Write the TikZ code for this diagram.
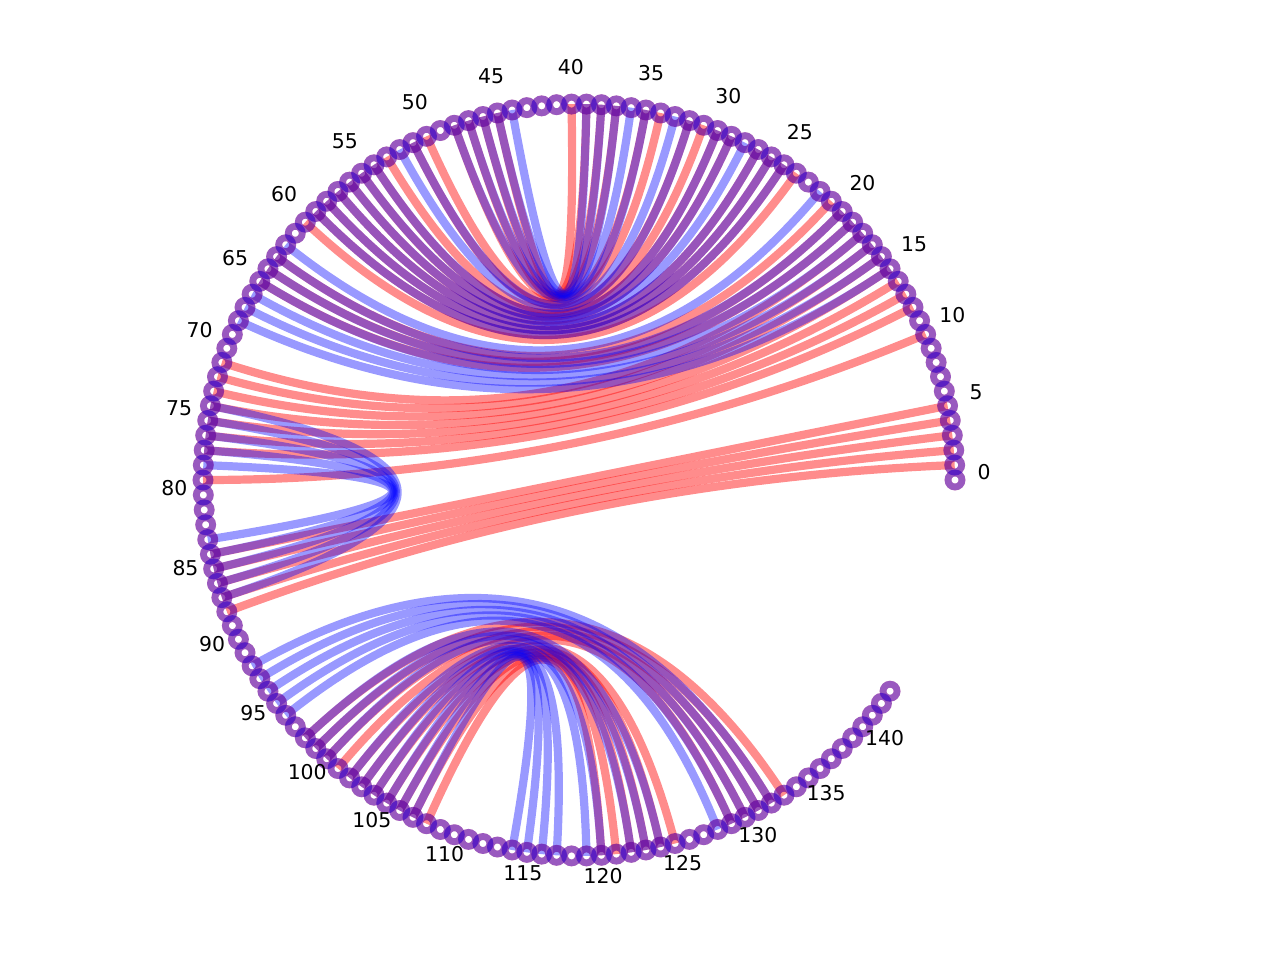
\documentclass[tikz,border=0pt]{standalone}
\usepackage{fontspec}
\setmainfont{DejaVu Sans}
\usetikzlibrary{calc}
\begin{document}
\begin{tikzpicture}[x=0.5pt,y=0.5pt,
  redline/.style={draw=red, draw opacity=0.45, line width=4.1pt},
  blueline/.style={draw=blue, draw opacity=0.4, line width=4.1pt},
  redring/.style={draw=red, draw opacity=0.42, line width=3.4pt},
  bluering/.style={draw=blue, draw opacity=0.4, line width=3.4pt},
  lbl/.style={font=\fontsize{10.2}{12}\selectfont, inner sep=0pt, text=black}]
\useasboundingbox (-579,-480) rectangle (701,480);
\coordinate (c) at (0,0);
\foreach \i in {0,...,143} \coordinate (n\i) at ({\i*2.2785}:376);
% red structure
\foreach \a/\b in {1/88,2/87,3/86,4/85,5/84,
  40/45,39/46,38/47,37/48,35/50,34/51,32/53,31/54,30/55,29/56,27/57,26/58,25/59,24/60,
  21/63,20/64,19/65,18/71,17/72,16/73,15/74,14/75,13/76,12/77,10/79,
  108/120,107/121,106/122,105/123,104/124,103/125,102/129,101/130,100/131,99/132,98/133}
  \draw[redline] (n\a) .. controls ($(n\a)!0.6667!(c)$) and ($(n\b)!0.6667!(c)$) .. (n\b);
% blue structure
\foreach \a/\b in {39/44,38/45,37/46,36/47,35/48,33/51,32/52,30/54,29/55,28/56,27/57,26/58,25/59,
  22/62,20/63,19/64,18/65,17/66,16/67,15/68,
  78/83,77/84,76/85,75/86,74/87,
  107/114,106/115,105/116,104/117,103/119,102/120,100/122,99/123,98/124,
  96/128,95/129,94/130,93/131,92/132}
  \draw[blueline] (n\a) .. controls ($(n\a)!0.6667!(c)$) and ($(n\b)!0.6667!(c)$) .. (n\b);
% nodes
\foreach \i in {0,...,143} \draw[redring] (n\i) circle (7);
\foreach \i in {0,...,143} \draw[bluering] (n\i) circle (7);
% labels
\foreach \i in {0,5,...,140} \node[lbl] (l\i) at ($({\i*2.2785}:405)+(0,8)$) {\i};
\end{tikzpicture}
\end{document}
